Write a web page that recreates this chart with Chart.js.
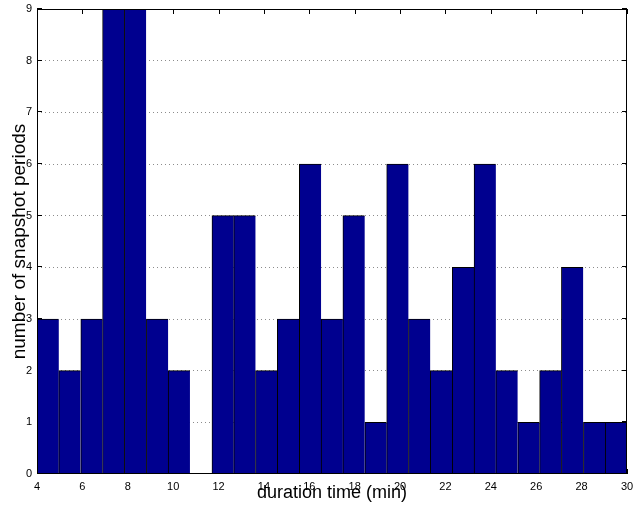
<!DOCTYPE html>
<html>
<head>
<meta charset="utf-8">
<script src="https://cdn.jsdelivr.net/npm/chart.js@4/dist/chart.umd.min.js"></script>
<style>
  html, body { margin: 0; padding: 0; background: #fff; }
  #wrap { width: 634px; height: 507px; }
</style>
</head>
<body>
<div id="wrap"><canvas id="hist" width="634" height="507"></canvas></div>
<script>
// histogram of snapshot period durations, 27 bins between 4 and 30 min
const binCenters = [4.48, 5.44, 6.41, 7.37, 8.33, 9.30, 10.26, 11.22, 12.19, 13.15,
    14.11, 15.07, 16.04, 17.00, 17.96, 18.93, 19.89, 20.85, 21.81, 22.78,
    23.74, 24.70, 25.67, 26.63, 27.59, 28.56, 29.52];
const periodCounts = [3, 2, 3, 9, 9, 3, 2, 0, 5, 5,
    2, 3, 6, 3, 5, 1, 6, 3, 2, 4,
    6, 2, 1, 2, 4, 1, 1];

const xMin = 4, xMax = 30, xStep = 2;
const yMin = 0, yMax = 9, yStep = 1;

const fontFamily = '"Liberation Sans", Arial, Helvetica, sans-serif';

// matlab style box with inward tick marks
const axisBox = {
    id: 'axisBox',
    beforeDatasetsDraw(chart) {
        const {ctx, chartArea: a, scales: {x, y}} = chart;
        const len = 5;
        ctx.save();
        ctx.strokeStyle = '#000';
        ctx.lineWidth = 1;
        ctx.beginPath();
        x.ticks.forEach(t => {
            const px = Math.round(x.getPixelForValue(t.value)) + 0.5;
            ctx.moveTo(px, a.top);
            ctx.lineTo(px, a.top + len);
            ctx.moveTo(px, a.bottom);
            ctx.lineTo(px, a.bottom - len);
        });
        y.ticks.forEach(t => {
            const py = Math.round(y.getPixelForValue(t.value)) - 0.5;
            ctx.moveTo(a.left, py);
            ctx.lineTo(a.left + len, py);
            ctx.moveTo(a.right, py);
            ctx.lineTo(a.right - len, py);
        });
        ctx.stroke();
        ctx.restore();
    },
    afterDatasetsDraw(chart) {
        const {ctx, chartArea: a} = chart;
        ctx.save();
        ctx.strokeStyle = '#000';
        ctx.lineWidth = 1;
        ctx.strokeRect(a.left + 0.5, a.top + 0.5, a.right - a.left - 1, a.bottom - a.top - 1);
        ctx.restore();
    }
};

const points = binCenters.map((c, i) => ({x: c, y: periodCounts[i]}));

new Chart(document.getElementById('hist'), {
    type: 'bar',
    data: {
        datasets: [{
            data: points,
            backgroundColor: '#00008f',
            borderColor: '#000',
            borderWidth: {left: 1, top: 1, right: 0, bottom: 0},
            borderSkipped: false,
            barPercentage: 1,
            categoryPercentage: 1
        }]
    },
    options: {
        responsive: false,
        animation: false,
        devicePixelRatio: 1,
        layout: {padding: {top: 9, right: 7, left: 0, bottom: 0}},
        plugins: {
            legend: {display: false},
            tooltip: {enabled: false}
        },
        scales: {
            x: {
                type: 'linear',
                min: xMin,
                max: xMax,
                offset: false,
                grid: {display: false, offset: false, drawTicks: false},
                border: {display: false},
                ticks: {
                    stepSize: xStep,
                    padding: 6,
                    maxRotation: 0,
                    color: '#000',
                    font: {family: fontFamily, size: 11}
                },
                title: {
                    display: true,
                    text: 'duration time (min)',
                    color: '#000',
                    font: {family: fontFamily, size: 18},
                    padding: {top: 0, bottom: 3}
                },
                afterFit(scale) {
                    // fixed axis band, labels may overhang the layout padding
                    scale.height = 33;
                    scale.paddingLeft = 0;
                    scale.paddingRight = 0;
                }
            },
            y: {
                min: yMin,
                max: yMax,
                grid: {
                    drawTicks: false,
                    lineWidth: 1,
                    color: ctx => (ctx.tick.value === yMin || ctx.tick.value === yMax) ? 'rgba(0,0,0,0)' : '#8c8c8c'
                },
                border: {display: false, dash: [1, 3]},
                ticks: {
                    stepSize: yStep,
                    padding: 5,
                    color: '#000',
                    font: {family: fontFamily, size: 11}
                },
                title: {
                    display: true,
                    text: 'number of snapshot periods',
                    color: '#000',
                    font: {family: fontFamily, size: 19},
                    padding: {top: 8, bottom: 0}
                },
                afterFit(scale) {
                    scale.width = 37;
                    scale.paddingTop = 0;
                    scale.paddingBottom = 0;
                }
            }
        }
    },
    plugins: [axisBox]
});
</script>
</body>
</html>
